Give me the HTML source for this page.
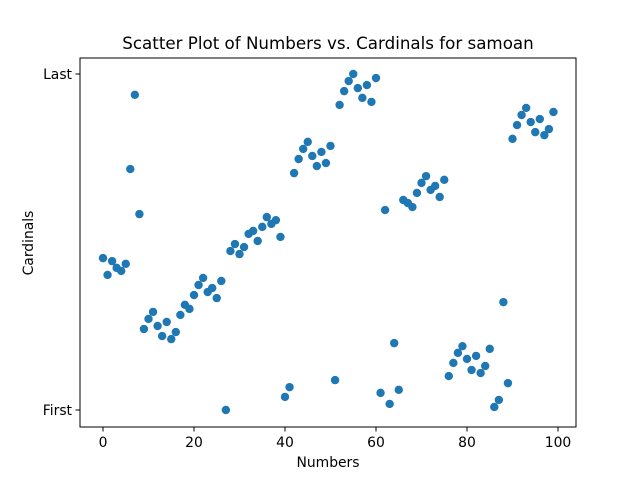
<!DOCTYPE html>
<html><head><meta charset="utf-8"><style>
body{margin:0;background:#fff;}
svg{display:block;font-family:"DejaVu Sans","Liberation Sans",sans-serif;}
</style></head><body>
<svg id="chart" width="640" height="480">
<rect width="640" height="480" fill="#fff"/>
<text x="328" y="49" font-size="16.7" text-anchor="middle">Scatter Plot of Numbers vs. Cardinals for samoan</text>
<g id="marks"></g>
<rect x="80" y="58" width="496" height="369" fill="none" stroke="#000" stroke-width="1"/>
<g id="xticks"></g>
<g id="yticks"></g>
<text x="328" y="467" font-size="13.9" text-anchor="middle">Numbers</text>
<text x="33" y="243" font-size="13.9" text-anchor="middle" transform="rotate(-90 33 243)">Cardinals</text>
</svg>
<script>
const xTicks=[0,20,40,60,80,100];
const yTickLabels=["First","Last"];
const yTickValues=[0,1];
const yPix=[258,275,261,268,271,264,169,95,214,329,319,312,326,336,322,339,332,315,305,309,295,285,278,292,288,298,281,410,251,244,254,247,234,231,241,227,217,224,220,237,397,387,173,159,149,142,156,166,152,163,146,380,105,91,81,74,88,98,85,102,78,393,210,404,343,390,200,203,207,193,183,176,190,186,197,180,376,363,353,346,359,370,356,373,366,349,407,400,302,383,139,125,115,108,122,132,119,135,129,112];
const yValues=yPix.map(p=>Math.round((410-p)/336*1000)/1000);
const xValues=yValues.map((_,i)=>i);
const NS="http://www.w3.org/2000/svg";
const xs=v=>103+v*4.55;
const ys=v=>410-v*336;
const marks=document.getElementById('marks');
xValues.forEach((x,i)=>{
 const c=document.createElementNS(NS,'circle');
 c.setAttribute('cx',xs(x));c.setAttribute('cy',ys(yValues[i]));c.setAttribute('r',4.2);c.setAttribute('fill','#1f77b4');
 
 
 marks.appendChild(c);
});
const xg=document.getElementById('xticks');
xTicks.forEach(t=>{
 const l=document.createElementNS(NS,'line');
 l.setAttribute('x1',xs(t));l.setAttribute('x2',xs(t));l.setAttribute('y1',427);l.setAttribute('y2',431.5);l.setAttribute('stroke','#000');
 
 
 xg.appendChild(l);
 const tx=document.createElementNS(NS,'text');
 tx.setAttribute('x',xs(t));tx.setAttribute('y',447);tx.setAttribute('font-size','13.9');tx.setAttribute('text-anchor','middle');tx.textContent=t;
 
 
 xg.appendChild(tx);
});
const yg=document.getElementById('yticks');
yTickValues.forEach((v,i)=>{
 const l=document.createElementNS(NS,'line');
 l.setAttribute('x1',75.5);l.setAttribute('x2',80);l.setAttribute('y1',ys(v));l.setAttribute('y2',ys(v));l.setAttribute('stroke','#000');
 
 
 yg.appendChild(l);
 const tx=document.createElementNS(NS,'text');
 tx.setAttribute('x',72);tx.setAttribute('y',ys(v)+5);tx.setAttribute('font-size','13.9');tx.setAttribute('text-anchor','end');tx.textContent=yTickLabels[i];
 
 
 yg.appendChild(tx);
});
</script>
</body></html>
